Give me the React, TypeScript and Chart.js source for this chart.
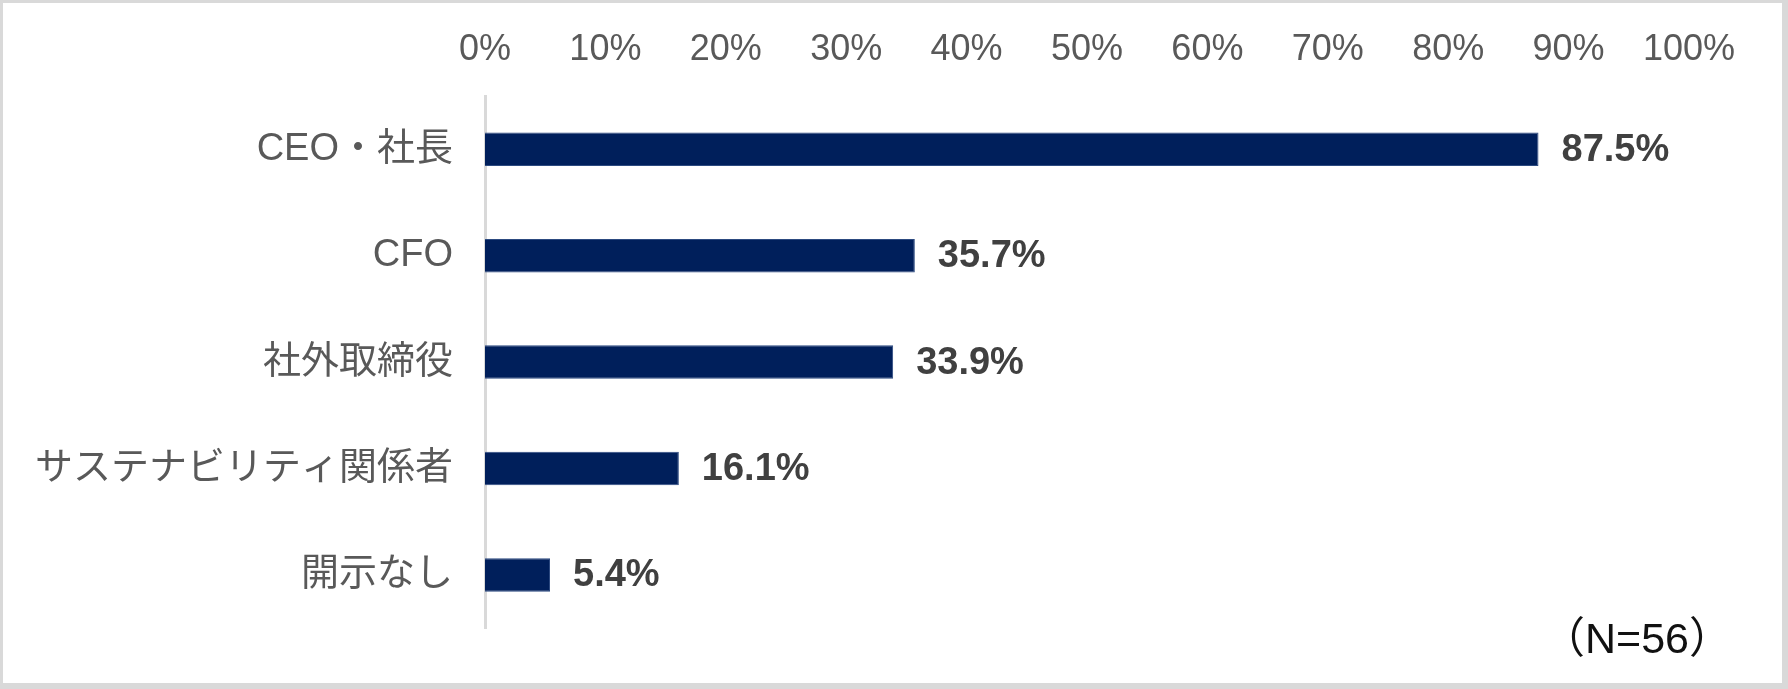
import React, { useEffect, useRef } from "react";
import { Chart, registerables } from "chart.js";

Chart.register(...registerables);

const categories = ["CEO・社長", "CFO", "社外取締役", "サステナビリティ関係者", "開示なし"];
const values = [87.5, 35.7, 33.9, 16.1, 5.4];
const axisMin = 0;
const axisMax = 100;
const axisStep = 10;
const sampleNote = "（N=56）";

const FONT = '"Liberation Sans", Arial, "Noto Sans CJK JP", sans-serif';

const dataLabelPlugin = {
  id: "dataLabels",
  afterDatasetsDraw(chart: any) {
    const ctx = chart.ctx;
    const meta = chart.getDatasetMeta(0);
    ctx.save();
    ctx.font = `bold 38px ${FONT}`;
    ctx.fillStyle = "#404040";
    ctx.textAlign = "left";
    ctx.textBaseline = "middle";
    meta.data.forEach((bar: any, i: number) => {
      const { x, y } = bar.getProps(["x", "y"], true);
      ctx.fillText(values[i].toFixed(1) + "%", x + 23, y + 1);
    });
    ctx.restore();
  },
};

export default function App() {
  const canvasRef = useRef<HTMLCanvasElement | null>(null);

  useEffect(() => {
    if (!canvasRef.current) return;
    const chart = new Chart(canvasRef.current, {
      type: "bar",
      data: {
        labels: categories,
        datasets: [
          {
            data: values,
            backgroundColor: "#001F5B",
            borderColor: "#2c4a80",
            borderWidth: 1,
            categoryPercentage: 1,
            barPercentage: 0.315,
          },
        ],
      },
      options: {
        indexAxis: "y",
        animation: false,
        responsive: false,
        maintainAspectRatio: false,
        devicePixelRatio: 1,
        layout: { padding: { left: 0, right: 93, top: 0, bottom: 44 } },
        plugins: {
          legend: { display: false },
          tooltip: { enabled: false },
          title: { display: false },
        },
        scales: {
          x: {
            type: "linear",
            position: "top",
            min: axisMin,
            max: axisMax,
            grid: { display: false, drawTicks: false },
            border: { display: false },
            ticks: {
              stepSize: axisStep,
              autoSkip: false,
              maxRotation: 0,
              padding: 24,
              color: "#595959",
              font: { family: FONT, size: 36 },
              callback: (v: any) => v + "%",
            },
            afterFit: (s: any) => {
              s.height = 93;
            },
          },
          y: {
            type: "category",
            grid: { display: false, drawTicks: false },
            border: { display: true, color: "#d9d9d9", width: 3 },
            ticks: {
              padding: 32,
              color: "#595959",
              font: { family: FONT, size: 38 },
            },
            afterFit: (s: any) => {
              s.width = 482;
            },
          },
        },
      },
      plugins: [dataLabelPlugin],
    });
    return () => chart.destroy();
  }, []);

  return (
    <div
      style={{
        position: "absolute",
        left: 0,
        top: 0,
        width: 1788,
        height: 689,
        boxSizing: "border-box",
        borderTop: "3px solid #d9d9d9",
        borderLeft: "3px solid #d9d9d9",
        borderRight: "6px solid #d9d9d9",
        borderBottom: "6px solid #d9d9d9",
        background: "#ffffff",
        overflow: "hidden",
      }}
    >
      <canvas ref={canvasRef} width={1779} height={680} style={{ display: "block" }} />
      <div
        style={{
          position: "absolute",
          right: 50,
          top: 610,
          fontFamily: FONT,
          fontSize: 43,
          lineHeight: "50px",
          color: "#111111",
          whiteSpace: "nowrap",
        }}
      >
        {sampleNote}
      </div>
    </div>
  );
}
